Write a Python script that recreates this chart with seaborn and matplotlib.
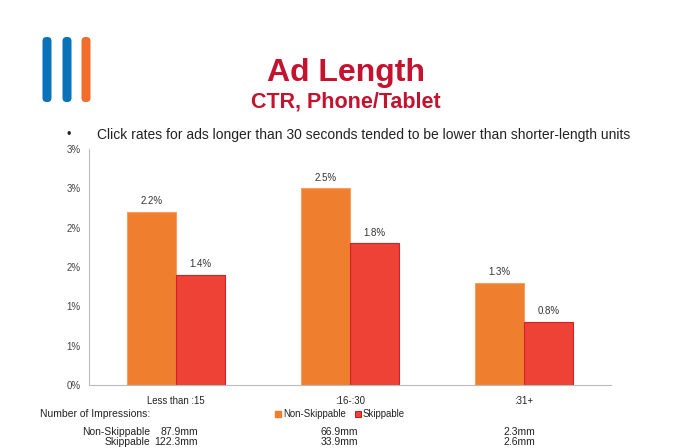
import pandas as pd
import matplotlib.pyplot as plt
import seaborn as sns
from matplotlib.patches import FancyBboxPatch

# Chart data
categories = ["Less than :15", ":16-:30", ":31+"]
non_skippable = [2.2, 2.5, 1.3]
skippable = [1.4, 1.8, 0.8]
series_names = ["Non-Skippable", "Skippable"]
y_ticks = [0, 0.5, 1.0, 1.5, 2.0, 2.5, 3.0]
y_tick_labels = ["0%", "1%", "1%", "2%", "2%", "3%", "3%"]
impr_non_skippable = ["87.9mm", "66.9mm", "2.3mm"]
impr_skippable = ["122.3mm", "33.9mm", "2.6mm"]

ORANGE = "#EF7F2E"
RED = "#EE4236"
TITLE_RED = "#C4122F"
TEXT = "#222222"

sns.set_style("white")
plt.rcParams["font.family"] = ["Liberation Sans", "DejaVu Sans"]

df = pd.DataFrame({
    "category": categories * 2,
    "series": [series_names[0]] * 3 + [series_names[1]] * 3,
    "ctr": non_skippable + skippable,
})

fig = plt.figure(figsize=(6.75, 4.48), dpi=100)
ax = fig.add_axes([0.132, 0.141, 0.773, 0.526])

sns.barplot(data=df, x="category", y="ctr", hue="series", order=categories,
            hue_order=series_names, palette=[ORANGE, RED], width=0.56,
            saturation=1, ax=ax, legend=False)
for i, patch in enumerate(ax.patches):
    patch.set_edgecolor("#F5A060" if i < 3 else "#D0202A")
    patch.set_linewidth(0.8)

for cont in ax.containers:
    ax.bar_label(cont, labels=[f"{v:.1f}%" for v in cont.datavalues],
                 padding=4, fontsize=7, color="#333333")

ax.set_ylim(0, 3)
ax.set_xlim(-0.5, 2.5)
ax.set_yticks(y_ticks)
ax.set_yticklabels(y_tick_labels)
ax.set_xlabel("")
ax.set_ylabel("")
ax.tick_params(axis="y", labelsize=7, labelcolor="#444444", color="#AAAAAA",
               length=3, width=0.6, direction="out", pad=3)
ax.set_xticks([-0.5, 0.5, 1.5, 2.5], minor=True)
ax.tick_params(axis="x", which="major", length=0, labelsize=6.9, labelcolor=TEXT, pad=8)
ax.tick_params(axis="x", which="minor", length=4, width=0.6, color="#BBBBBB", direction="out")
for side in ["top", "right"]:
    ax.spines[side].set_visible(False)
for side in ["left", "bottom"]:
    ax.spines[side].set_color("#BBBBBB")
    ax.spines[side].set_linewidth(0.8)

# Titles
fig.text(0.512, 0.838, "Ad Length", ha="center", va="center", fontsize=23,
         fontweight="bold", color=TITLE_RED)
fig.text(0.512, 0.772, "CTR, Phone/Tablet", ha="center", va="center", fontsize=15.5,
         fontweight="bold", color=TITLE_RED)
fig.text(0.099, 0.699, "\u2022", ha="left", va="center", fontsize=9, color=TEXT)
fig.text(0.143, 0.699, "Click rates for ads longer than 30 seconds tended to be lower than shorter-length units",
         ha="left", va="center", fontsize=10, color=TEXT)

# Logo bars
for xc, col in zip([47, 67, 86], ["#0A72B8", "#0A72B8", "#F26C2C"]):
    w, h = 9, 65
    fig.patches.append(FancyBboxPatch(((xc - w / 2) / 675, 1 - 102 / 448), w / 675, h / 448,
                                      boxstyle="round,pad=0,rounding_size=0.006",
                                      mutation_aspect=675 / 448,
                                      transform=fig.transFigure, color=col, linewidth=0))

# Legend
fig.patches.append(plt.Rectangle((275 / 675, 1 - 417 / 448), 6 / 675, 6 / 448,
                                 transform=fig.transFigure, color=ORANGE))
fig.text(283 / 675, 1 - 414 / 448, "Non-Skippable", ha="left", va="center", fontsize=6.9, color=TEXT)
fig.patches.append(plt.Rectangle((355 / 675, 1 - 417 / 448), 6 / 675, 6 / 448,
                                 transform=fig.transFigure, facecolor=RED, edgecolor="#C00000", linewidth=0.6))
fig.text(363 / 675, 1 - 414 / 448, "Skippable", ha="left", va="center", fontsize=6.9, color=TEXT)

# Impressions table
fig.text(40 / 675, 1 - 414 / 448, "Number of Impressions:", ha="left", va="center", fontsize=7.5, color=TEXT)
fig.text(150 / 675, 1 - 432 / 448, "Non-Skippable", ha="right", va="center", fontsize=7.5, color=TEXT)
fig.text(150 / 675, 1 - 442 / 448, "Skippable", ha="right", va="center", fontsize=7.5, color=TEXT)
for i, xr in enumerate([198, 358, 535]):
    fig.text(xr / 675, 1 - 432 / 448, impr_non_skippable[i], ha="right", va="center", fontsize=7.5, color=TEXT)
    fig.text(xr / 675, 1 - 442 / 448, impr_skippable[i], ha="right", va="center", fontsize=7.5, color=TEXT)

fig.savefig("out.png", dpi=100)
